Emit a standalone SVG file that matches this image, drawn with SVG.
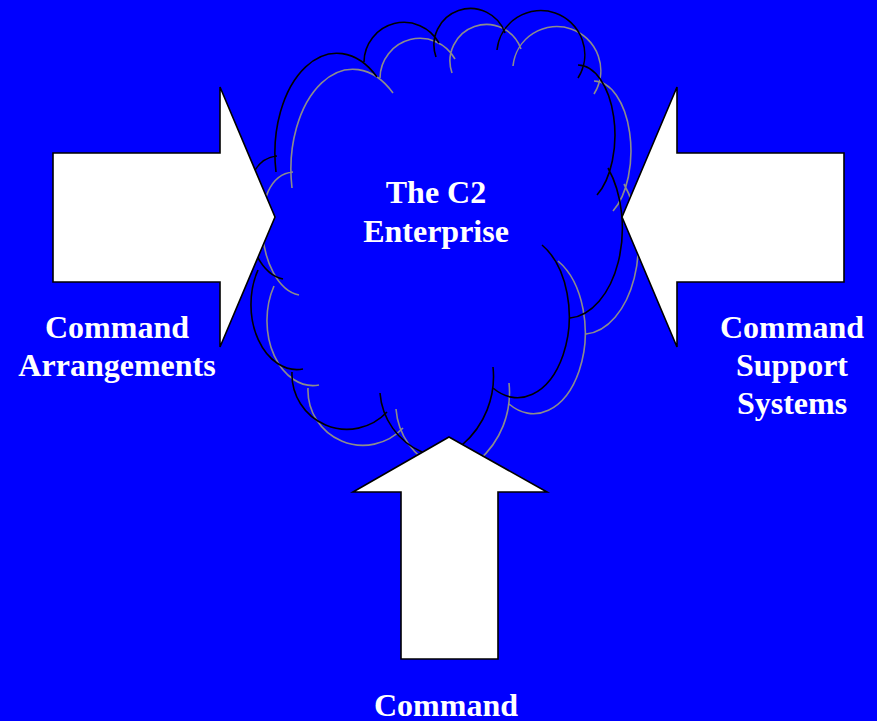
<svg xmlns="http://www.w3.org/2000/svg" width="877" height="721" viewBox="0 0 877 721">
<style>
.bg{fill:#0000FF}
.arrow{fill:#FFFFFF;stroke:#000000;stroke-width:1.6;stroke-linejoin:miter}
.cloud{fill:none;stroke-width:1.6}
.lbl{font-family:"Liberation Serif","Times New Roman",serif;font-weight:bold;font-size:32px;fill:#FFFFFF;text-anchor:middle}
</style>
<defs>
<path id="cloudPath" d="M276 172 A62 100 0 0 1 377 77 M364 62 A40 40 0 0 1 439 43 M436 57 A36 36 0 0 1 505 33 M497 50 A44 44 0 1 1 578 78 M578 65 A37 70 0 0 1 597 195 M608 168 A56 90 0 0 1 570 318 M542 245 A51 80 0 0 1 493 388 M493 367 A90 90 0 0 1 462 445 M380 393 A70 70 0 0 0 422 452 M292 372 A55 55 0 0 0 387 412 M258 270 A46 65 0 0 0 303 369 M283 279 C240 270 230 160 277 156"/>
</defs>
<rect class="bg" x="0" y="0" width="877" height="721"/>
<g id="cloud">
<use href="#cloudPath" class="cloud" stroke="#8C8C8C" transform="translate(16,16)"/>
<use href="#cloudPath" class="cloud" stroke="#000000"/>
<text class="lbl" x="436" y="203">The C2</text>
<text class="lbl" x="436" y="242">Enterprise</text>
</g>
<g id="connectors">
<polygon id="arrow-left" class="arrow" points="53,153 220,153 220,87 275,217 220,347 220,282 53,282"/>
<polygon id="arrow-right" class="arrow" points="844,153 677,153 677,87 622,217 677,347 677,282 844,282"/>
<polygon id="arrow-bottom" class="arrow" points="449,437 547,492 498,492 498,659 401,659 401,492 353,492"/>
</g>
<g id="node-arrangements">
<text class="lbl" x="117" y="338">Command</text>
<text class="lbl" x="117" y="376">Arrangements</text>
</g>
<g id="node-support">
<text class="lbl" x="792" y="338">Command</text>
<text class="lbl" x="792" y="376">Support</text>
<text class="lbl" x="792" y="414">Systems</text>
</g>
<g id="node-command">
<text class="lbl" x="446" y="716">Command</text>
</g>
</svg>
